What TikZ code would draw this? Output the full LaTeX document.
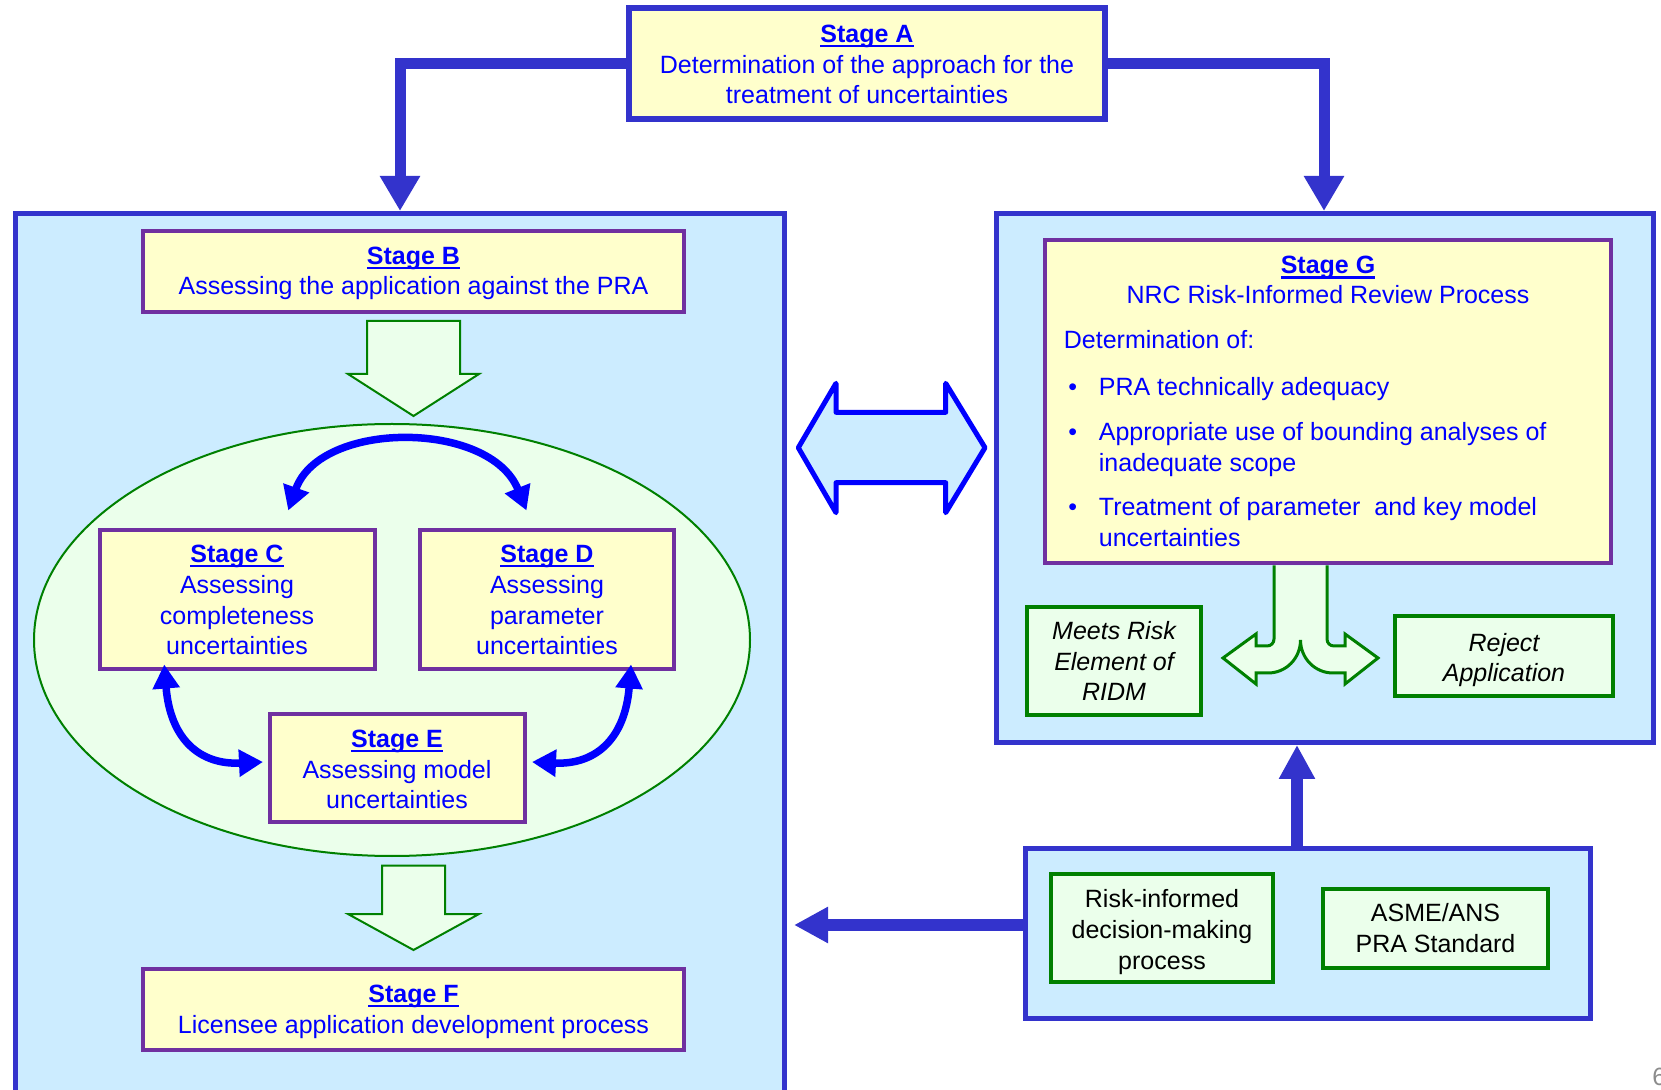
\documentclass[tikz,border=0pt]{standalone}
\usepackage{fontspec}
\setmainfont{Liberation Sans}
\usetikzlibrary{arrows.meta,fit,calc}
\definecolor{frameblue}{HTML}{3333CC}
\definecolor{paneblue}{HTML}{CCECFF}
\definecolor{stagefill}{HTML}{FFFFCC}
\definecolor{stageedge}{HTML}{7030A0}
\definecolor{inkblue}{HTML}{0000FF}
\definecolor{leafgreen}{HTML}{008000}
\definecolor{mintfill}{HTML}{EBFFEB}
\definecolor{pagegray}{HTML}{8C8C8C}
% bold stage heading with a firm underline just below the baseline
\newsavebox\stageheadbox
\newcommand\stagehead[1]{\sbox\stageheadbox{\textbf{#1}}\usebox\stageheadbox\llap{\rule[-2.3pt]{\wd\stageheadbox}{1.1pt}}}
\begin{document}
\begin{tikzpicture}[x=0.5pt,y=-0.5pt,
  every node/.style={font=\fontsize{12.5}{15.4}\selectfont, inner sep=0pt},
  pane/.style={draw=frameblue, line width=2.5pt, fill=paneblue},
  stagebox/.style={draw=stageedge, line width=2pt, fill=stagefill},
  greenbox/.style={draw=leafgreen, line width=2pt, fill=mintfill},
  % multi-line labels: anchor=base sits on the baseline of the last line
  stagelabel/.style={text=inkblue, align=center, anchor=base},
  greenlabel/.style={text=black, align=center, anchor=base},
  stagetext/.style={text=inkblue, align=left},
  feed/.style={draw=frameblue, line width=5.5pt, -{Triangle[width=19pt,length=17.5pt]}},
  feedin/.style={draw=frameblue, line width=6pt, -{Triangle[width=17pt,length=17pt]}},
  cycler/.style={draw=inkblue, line width=3.75pt,
    {Triangle[width=13pt,length=12pt]}-{Triangle[width=13pt,length=12pt]}},
  blockarrow/.style={draw=leafgreen, line width=1pt, fill=mintfill, line join=miter},
  ]
\useasboundingbox (0,0) rectangle (1661,1090);

% containers
\node[pane, fit={(15.5,213.5)(784.5,1100)}] (L) {};
\node[pane, fit={(996.5,213.5)(1653.5,742.5)}] (R) {};
\node[pane, fit={(1025.5,848.5)(1590.5,1018.5)}] (Bt) {};

% Stage A and its two feeds
\node[stagebox, draw=frameblue, line width=3pt, fit={(629,8)(1105,119)}] (A) {};
\node[stagelabel] (At) at (867,104)
  {\stagehead{Stage A}\\Determination of the approach for the\\treatment of uncertainties};
\draw[feed] (A.west) -| ($(L.north west)+(387,0)$);
\draw[feed] (A.east) -| ($(R.north west)+(330,0)$);

% left pane: licensee side
\filldraw[blockarrow] (367,321) -- (460,321) -- (460,374) -- (479,374) -- (413.5,416)
  -- (348,374) -- (367,374) -- cycle;
\filldraw[draw=leafgreen, line width=1pt, fill=mintfill] (392,640) ellipse [x radius=179pt, y radius=108pt];
\filldraw[blockarrow] (382,865.5) -- (445,865.5) -- (445,914) -- (479,914) -- (413.5,950)
  -- (348,914) -- (382,914) -- cycle;

\node[stagebox, fit={(143,231)(684,312)}] (B) {};
\node[stagelabel] (Bl) at (413.5,295)
  {\stagehead{Stage B}\\Assessing the application against the PRA};
\node[stagebox, fit={(99.5,530.5)(375,669.5)}] (C) {};
\node[stagelabel] (Cl) at (237,655)
  {\stagehead{Stage C}\\Assessing\\completeness\\uncertainties};
\node[stagebox, fit={(420,530.5)(674,669.5)}] (D) {};
\node[stagelabel] (Dl) at (547,655)
  {\stagehead{Stage D}\\Assessing\\parameter\\uncertainties};
\node[stagebox, fit={(270,714)(524.5,822)}] (E) {};
\node[stagelabel] (El) at (397,809)
  {\stagehead{Stage E}\\Assessing model\\uncertainties};
\node[stagebox, fit={(143,969)(684,1050)}] (F) {};
\node[stagelabel] (Fl) at (413.5,1033)
  {\stagehead{Stage F}\\Licensee application development process};

\draw[cycler] ($(C.north)+(51,-18)$) .. controls +(32,-90.5) and +(-36.5,-90.5) .. ($(D.north)+(-20.5,-18)$);
\draw[cycler] ($(C.south)+(-73,-7)$) .. controls +(6,75) and +(-63,3) .. ($(E.west)+(-5,-6)$);
\draw[cycler] ($(D.south)+(84,-7)$) .. controls +(-6,75) and +(63,3) .. ($(E.east)+(5.5,-6)$);

% exchange between the two panes
\filldraw[draw=inkblue, fill=paneblue, line width=2.5pt, line join=round]
  (798.3,447.7) -- (836,383.3) -- (836,412.3) -- (945.7,412.3) -- (945.7,383.3)
  -- (985,447.7) -- (945.7,512.7) -- (945.7,482.7) -- (836,482.7) -- (836,512.7) -- cycle;

% right pane: NRC review
\node[stagebox, fit={(1045,240)(1611,563)}] (G) {};
\node[stagetext, anchor=base] (Gt) at (1328,274) {\stagehead{Stage G}};
\node[stagetext, anchor=base] (Gs) at (1328,303.5) {NRC Risk-Informed Review Process};
\node[stagetext, anchor=base west] (Gd) at (1063.5,349) {Determination of:};
\node[stagetext, anchor=base west] (Gb1) at (1068,395.6) {•};
\node[stagetext, anchor=base west] (Gi1) at (1098.5,395.6) {PRA technically adequacy};
\node[stagetext, anchor=base west] (Gb2) at (1068,441) {•};
\node[stagetext, anchor=base west] (Gi2) at (1098.5,441) {Appropriate use of bounding analyses of};
\node[stagetext, anchor=base west] (Gi2b) at (1098.5,472) {inadequate scope};
\node[stagetext, anchor=base west] (Gb3) at (1068,516) {•};
\node[stagetext, anchor=base west] (Gi3) at (1098.5,516) {Treatment of parameter\ \ and key model};
\node[stagetext, anchor=base west] (Gi3b) at (1098.5,547) {uncertainties};

% outcome split
\filldraw[draw=leafgreen, line width=1.5pt, fill=mintfill, line join=miter]
  (1274,565.5) -- (1274,639) .. controls (1274,643) and (1271,646) .. (1267,646)
  -- (1256,646) -- (1256,634) -- (1223,658) -- (1256,684) -- (1256,673) -- (1268,673)
  .. controls (1286.2,673) and (1300.5,658.2) .. (1300.5,640)
  .. controls (1300.5,658.2) and (1314.8,673) .. (1333,673)
  -- (1345,673) -- (1345,684) -- (1378,658) -- (1345,634) -- (1345,646) -- (1334,646)
  .. controls (1330,646) and (1327,643) .. (1327,639) -- (1327,565.5);

\node[greenbox, fit={(1027,607)(1201,715)}] (M) {};
\node[greenlabel] (Ml) at (1114,701) {\itshape Meets Risk\\\itshape Element of\\\itshape RIDM};
\node[greenbox, fit={(1395,616)(1613,696)}] (J) {};
\node[greenlabel] (Jl) at (1504,682) {\itshape Reject\\\itshape Application};

% inputs pane
\node[greenbox, fit={(1051,874)(1273,982)}] (RI) {};
\node[greenlabel] (RIl) at (1162,969) {Risk-informed\\decision-making\\process};
\node[greenbox, fit={(1323,889)(1548,968)}] (AS) {};
\node[greenlabel] (ASl) at (1435.5,952) {ASME/ANS\\PRA Standard};
\draw[feedin] ([xshift=-5.5pt]Bt.north) -- ([xshift=-5.5pt]Bt.north |- R.south);
\draw[feedin] ([yshift=4.25pt]Bt.west) -- ([yshift=4.25pt,xshift=3.5pt]Bt.west -| L.east);

\node[anchor=base west, text=pagegray] (pg) at (1652,1085) {6};
\end{tikzpicture}
\end{document}
